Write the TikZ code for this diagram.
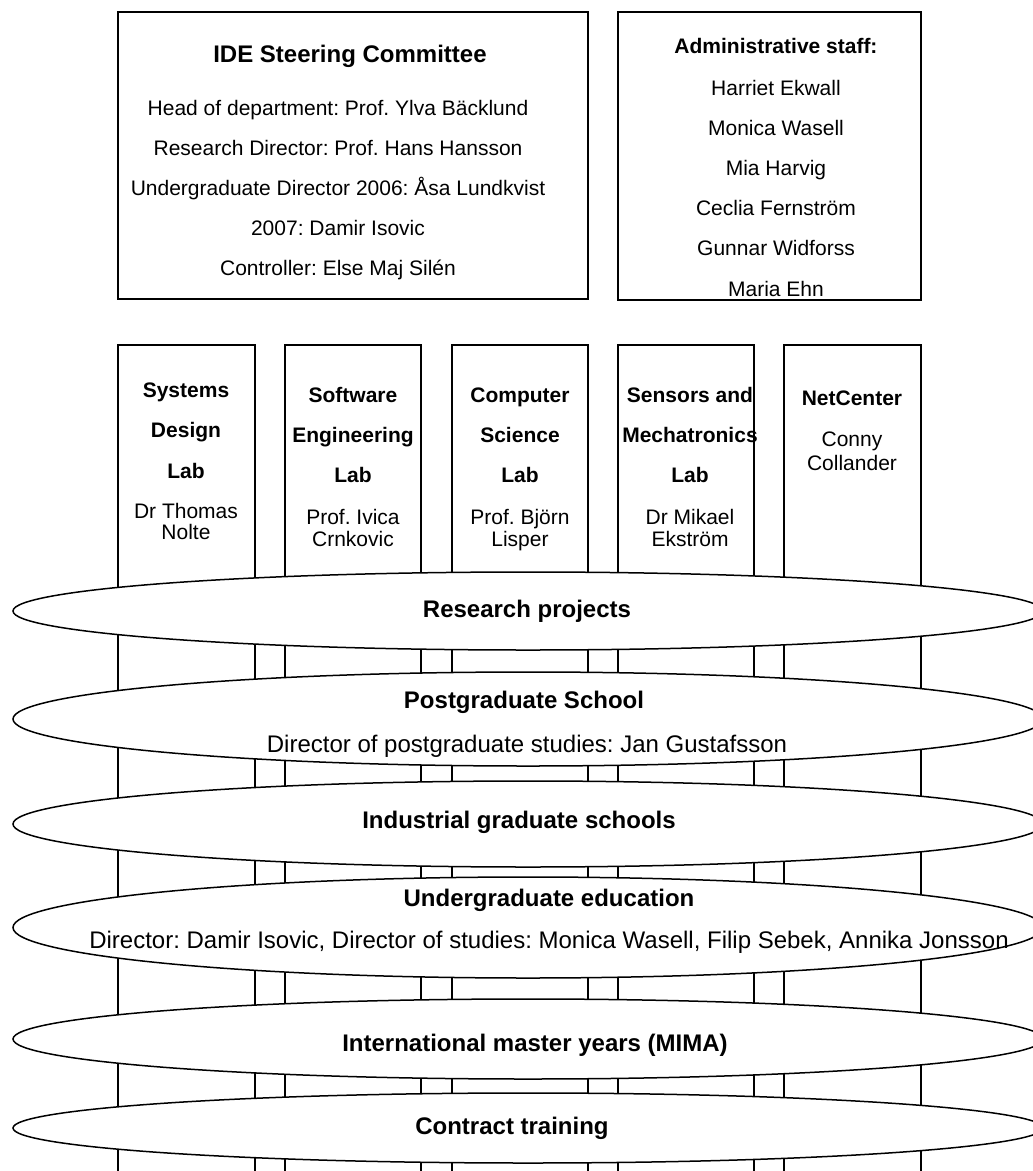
\documentclass[tikz,border=0pt]{standalone}
\usepackage{fontspec}
\setmainfont{Liberation Sans}
\usetikzlibrary{shapes.geometric}
\frenchspacing
\begin{document}
\begin{tikzpicture}[x=1pt,y=-1pt,
  frame/.style={draw=black, line width=1.6pt, fill=white, inner sep=0pt, outer sep=0pt, anchor=north west},
  col/.style={draw=black, line width=1.5pt, fill=white, inner sep=0pt, outer sep=0pt, anchor=north west, minimum height=840pt},
  band/.style={ellipse, draw=black, line width=1.5pt, fill=white, inner sep=0pt, outer sep=0pt, minimum width=1030pt},
  tr/.style={inner sep=0pt, anchor=base, font=\fontsize{21}{24}\selectfont\frenchspacing},
  tbf/.style={inner sep=0pt, anchor=base, font=\fontsize{21}{24}\selectfont\bfseries\frenchspacing},
  bigr/.style={inner sep=0pt, anchor=base, font=\fontsize{24}{28}\selectfont\frenchspacing},
  bigb/.style={inner sep=0pt, anchor=base, font=\fontsize{24}{28}\selectfont\bfseries\frenchspacing},
]
\clip (0,0) rectangle (1033,1171);
\fill[white] (0,0) rectangle (1033,1171);

% top boxes
\node[frame, minimum width=470pt, minimum height=287pt] (committee) at (118,12) {};
\node[frame, minimum width=303pt, minimum height=288pt] (admin) at (618,12) {};

\node[bigb] (ct) at (350,62) {IDE Steering Committee};
\node[tr] (c1) at (338,115) {Head of department: Prof. Ylva Bäcklund};
\node[tr] (c2) at (338,155) {Research Director: Prof. Hans Hansson};
\node[tr] (c3) at (338,195) {Undergraduate Director 2006: Åsa Lundkvist};
\node[tr] (c4) at (338,235) {2007: Damir Isovic};
\node[tr] (c5) at (338,275) {Controller: Else Maj Silén};

\node[tbf] (at) at (776,53) {Administrative staff:};
\node[tr] (a1) at (776,95) {Harriet Ekwall};
\node[tr] (a2) at (776,135) {Monica Wasell};
\node[tr] (a3) at (776,175) {Mia Harvig};
\node[tr] (a4) at (776,215) {Ceclia Fernström};
\node[tr] (a5) at (776,255) {Gunnar Widforss};
\node[tr] (a6) at (776,296) {Maria Ehn};

% lab columns
\node[col, minimum width=137pt] (lab1) at (118,345) {};
\node[col, minimum width=136pt] (lab2) at (285,345) {};
\node[col, minimum width=136pt] (lab3) at (452,345) {};
\node[col, minimum width=136pt] (lab4) at (618,345) {};
\node[col, minimum width=137pt] (lab5) at (784,345) {};

\node[tbf] (l1a) at (186,397) {Systems};
\node[tbf] (l1b) at (186,437) {Design};
\node[tbf] (l1c) at (186,478) {Lab};
\node[tr] (l1d) at (186,518) {Dr Thomas};
\node[tr] (l1e) at (186,539) {Nolte};

\node[tbf] (l2a) at (353,402) {Software};
\node[tbf] (l2b) at (353,442) {Engineering};
\node[tbf] (l2c) at (353,482) {Lab};
\node[tr] (l2d) at (353,524) {Prof. Ivica};
\node[tr] (l2e) at (353,546) {Crnkovic};

\node[tbf] (l3a) at (520,402) {Computer};
\node[tbf] (l3b) at (520,442) {Science};
\node[tbf] (l3c) at (520,482) {Lab};
\node[tr] (l3d) at (520,524) {Prof. Björn};
\node[tr] (l3e) at (520,546) {Lisper};

\node[tbf] (l4a) at (690,402) {Sensors and};
\node[tbf] (l4b) at (690,442) {Mechatronics};
\node[tbf] (l4c) at (690,482) {Lab};
\node[tr] (l4d) at (690,524) {Dr Mikael};
\node[tr] (l4e) at (690,546) {Ekström};

\node[tbf] (l5a) at (852,405) {NetCenter};
\node[tr] (l5b) at (852,446) {Conny};
\node[tr] (l5c) at (852,470) {Collander};

% bands
\node[band, minimum height=78pt] (e1) at (528,611) {};
\node[band, minimum height=94pt] (e2) at (528,719) {};
\node[band, minimum height=86pt] (e3) at (528,824) {};
\node[band, minimum height=101pt] (e4) at (528,927.5) {};
\node[band, minimum height=80pt] (e5) at (528,1039) {};
\node[band, minimum height=70pt] (e6) at (528,1128) {};

\node[bigb] (e1t) at (527,617) {Research projects};
\node[bigb] (e2t) at (524,708) {Postgraduate School};
\node[bigr] (e2s) at (527,752) {Director of postgraduate studies: Jan Gustafsson};
\node[bigb] (e3t) at (519,828) {Industrial graduate schools};
\node[bigb] (e4t) at (549,906) {Undergraduate education};
\node[bigr] (e4s) at (549,948) {Director: Damir Isovic, Director of studies: Monica Wasell, Filip Sebek, Annika Jonsson};
\node[bigb] (e5t) at (535,1051) {International master years (MIMA)};
\node[bigb] (e6t) at (512,1134) {Contract training};
\end{tikzpicture}
\end{document}
